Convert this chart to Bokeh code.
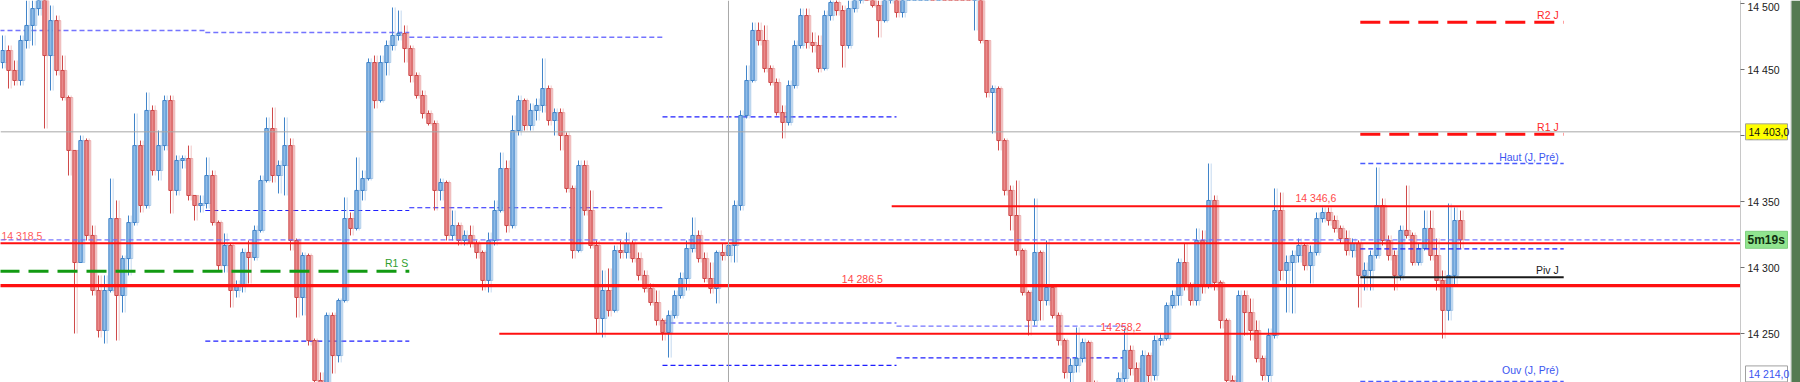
from bokeh.plotting import figure
from bokeh.models import (ColumnDataSource, Span, FixedTicker, BoxAnnotation,
                          CustomJSTickFormatter, Range1d, GridBox)
from bokeh.core.properties import value
from bokeh.embed import file_html
from bokeh.resources import INLINE

# ---- price data (one bar per index) ----
first_open = 14455.5
closes = [
    14464.6, 14449.5, 14441.9, 14472.2, 14483.6, 14496.4, 14506.3, 14460.8, 14487.3, 14449.5,
    14429.0, 14388.9, 14304.0, 14396.4, 14324.5, 14282.8, 14252.5, 14282.8, 14337.3, 14279.0,
    14307.0, 14334.3, 14392.6, 14347.2, 14419.2, 14373.7, 14392.6, 14426.7, 14358.6, 14381.3,
    14382.8, 14354.8, 14347.2, 14348.7, 14369.9, 14334.3, 14301.7, 14316.9, 14282.8, 14286.6,
    14311.6, 14307.8, 14328.3, 14366.1, 14405.5, 14369.9, 14377.5, 14392.6, 14320.7, 14277.5,
    14309.3, 14244.9, 14214.6, 14199.5, 14263.9, 14233.5, 14275.2, 14337.3, 14329.8, 14358.6,
    14367.6, 14455.5, 14426.7, 14455.5, 14468.4, 14476.0, 14477.5, 14466.1, 14445.7, 14430.5,
    14416.9, 14409.3, 14358.6, 14364.6, 14324.5, 14332.0, 14320.7, 14324.5, 14318.4, 14311.6,
    14290.4, 14320.7, 14343.4, 14375.2, 14332.0, 14404.0, 14426.7, 14407.8, 14419.2, 14423.0,
    14435.8, 14411.6, 14417.6, 14400.2, 14360.1, 14313.1, 14377.5, 14343.4, 14316.9, 14261.6,
    14282.8, 14267.7, 14313.1, 14311.6, 14318.4, 14307.0, 14294.2, 14284.3, 14273.7, 14260.1,
    14251.0, 14263.9, 14279.0, 14291.9, 14314.6, 14324.5, 14307.0, 14291.9, 14284.3, 14311.6,
    14309.3, 14316.9, 14347.2, 14415.4, 14441.9, 14479.8, 14472.2, 14451.0, 14440.4, 14417.6,
    14410.1, 14438.1, 14468.4, 14491.1, 14470.7, 14468.4, 14451.0, 14491.1, 14501.0, 14494.9,
    14468.4, 14496.4, 14502.5, 14510.1, 14506.3, 14498.7, 14487.3, 14504.0, 14508.6, 14493.4,
    14504.0, 14509.0, 14516.0, 14522.0, 14527.0, 14523.5, 14530.0, 14525.0, 14520.0, 14515.5,
    14511.5, 14507.5, 14509.0, 14472.2, 14432.8, 14435.8, 14396.4, 14358.6, 14339.6, 14313.1,
    14281.3, 14260.1, 14311.6, 14275.2, 14285.1, 14263.9, 14244.9, 14220.7, 14226.0, 14231.3,
    14243.4, 14210.8, 14201.0, 14195.7, 14199.5, 14205.5, 14216.1, 14237.4, 14223.7, 14210.8,
    14233.5, 14218.4, 14244.9, 14246.4, 14271.4, 14279.0, 14304.0, 14286.6, 14275.2, 14320.7,
    14286.6, 14351.0, 14288.9, 14260.1, 14214.6, 14205.5, 14279.0, 14266.1, 14252.5, 14231.3,
    14218.4, 14248.7, 14343.4, 14298.0, 14304.0, 14309.3, 14316.9, 14301.7, 14311.6, 14337.3,
    14341.9, 14335.8, 14329.8, 14322.2, 14313.1, 14318.4, 14294.2, 14298.0, 14309.3, 14347.2,
    14320.7, 14309.3, 14294.2, 14328.3, 14324.5, 14304.0, 14314.6, 14329.8, 14309.3, 14290.4,
    14267.7, 14294.2, 14335.8, 14321.2,
]
highs = [
    14476.0, 14468.4, 14457.0, 14476.0, 14502.5, 14502.5, 14510.1, 14510.1, 14498.7, 14491.1,
    14460.8, 14430.5, 14388.9, 14400.2, 14398.0, 14332.0, 14294.2, 14294.2, 14367.6, 14351.0,
    14309.3, 14339.6, 14416.9, 14396.4, 14432.8, 14423.0, 14404.0, 14430.5, 14430.5, 14385.1,
    14385.1, 14392.6, 14354.8, 14354.8, 14383.6, 14373.7, 14335.8, 14326.0, 14318.4, 14290.4,
    14314.6, 14320.7, 14332.0, 14369.9, 14413.9, 14421.4, 14381.3, 14413.9, 14398.0, 14322.2,
    14311.6, 14310.8, 14246.4, 14220.7, 14266.1, 14266.1, 14276.7, 14353.3, 14341.9, 14383.6,
    14373.7, 14458.6, 14460.8, 14460.8, 14472.2, 14497.2, 14494.9, 14483.6, 14468.4, 14448.0,
    14434.3, 14419.2, 14411.6, 14367.6, 14366.1, 14343.4, 14334.3, 14328.3, 14332.0, 14320.7,
    14313.1, 14326.7, 14351.0, 14387.3, 14381.3, 14415.4, 14430.5, 14428.2, 14424.5, 14428.2,
    14458.6, 14438.1, 14420.7, 14420.7, 14402.5, 14362.3, 14381.3, 14381.3, 14358.6, 14320.7,
    14298.0, 14299.5, 14316.9, 14320.7, 14326.7, 14320.7, 14311.6, 14298.0, 14288.1, 14282.8,
    14261.6, 14267.7, 14282.8, 14296.4, 14320.7, 14338.1, 14328.3, 14311.6, 14304.0, 14313.1,
    14318.4, 14320.7, 14351.0, 14419.2, 14453.3, 14485.8, 14485.8, 14483.6, 14453.3, 14443.4,
    14423.0, 14441.9, 14472.2, 14496.4, 14496.4, 14478.3, 14476.0, 14494.9, 14506.3, 14506.3,
    14498.7, 14502.5, 14508.6, 14513.9, 14516.1, 14510.1, 14502.5, 14508.6, 14513.9, 14511.6,
    14506.3, 14513.0, 14520.0, 14526.5, 14531.0, 14529.5, 14534.0, 14532.0, 14527.0, 14522.0,
    14518.0, 14514.0, 14512.0, 14506.0, 14472.2, 14438.1, 14437.4, 14398.0, 14362.3, 14366.1,
    14314.6, 14282.8, 14352.5, 14313.1, 14320.7, 14286.6, 14266.1, 14246.4, 14231.3, 14254.8,
    14246.4, 14244.9, 14214.6, 14208.5, 14207.0, 14210.8, 14220.7, 14254.0, 14241.1, 14228.3,
    14237.4, 14235.8, 14248.7, 14250.2, 14273.7, 14282.8, 14307.0, 14318.4, 14288.9, 14329.8,
    14328.3, 14379.0, 14354.8, 14290.4, 14261.6, 14218.4, 14282.8, 14282.8, 14276.7, 14260.1,
    14233.5, 14254.0, 14360.1, 14357.0, 14309.3, 14313.1, 14322.2, 14318.4, 14316.9, 14341.9,
    14345.7, 14345.7, 14339.6, 14332.0, 14328.3, 14322.2, 14320.7, 14304.0, 14313.1, 14376.0,
    14352.5, 14324.5, 14313.1, 14332.0, 14362.3, 14326.7, 14318.4, 14343.4, 14343.4, 14322.2,
    14298.0, 14348.7, 14345.7, 14343.4,
]
lows = [
    14451.0, 14435.8, 14438.1, 14438.1, 14466.1, 14468.4, 14491.1, 14405.5, 14434.3, 14445.7,
    14426.7, 14369.9, 14250.2, 14304.0, 14320.7, 14279.0, 14247.2, 14242.6, 14281.3, 14244.9,
    14266.1, 14294.2, 14332.0, 14341.9, 14344.9, 14369.9, 14366.1, 14388.9, 14341.1, 14354.8,
    14375.2, 14351.0, 14335.8, 14341.9, 14344.9, 14332.0, 14298.0, 14296.4, 14269.9, 14277.5,
    14281.3, 14288.1, 14305.5, 14326.7, 14364.6, 14364.6, 14356.3, 14354.8, 14313.1, 14262.3,
    14263.9, 14241.1, 14203.3, 14191.9, 14191.9, 14219.9, 14228.3, 14273.7, 14324.5, 14328.3,
    14351.0, 14366.1, 14420.7, 14425.2, 14445.7, 14464.6, 14472.2, 14455.5, 14440.4, 14428.2,
    14413.1, 14407.8, 14343.4, 14351.0, 14320.7, 14320.7, 14316.9, 14316.9, 14315.4, 14307.0,
    14282.8, 14281.3, 14316.9, 14341.9, 14326.7, 14329.8, 14400.2, 14404.0, 14404.0, 14411.6,
    14417.6, 14407.8, 14400.2, 14388.9, 14357.0, 14307.0, 14311.6, 14339.6, 14314.6, 14250.2,
    14247.2, 14263.1, 14266.1, 14307.0, 14307.0, 14304.0, 14290.4, 14281.3, 14271.4, 14256.3,
    14244.9, 14232.0, 14261.6, 14276.7, 14282.8, 14311.6, 14304.0, 14288.9, 14280.5, 14273.0,
    14305.5, 14304.0, 14304.0, 14343.4, 14413.1, 14440.4, 14468.4, 14448.0, 14438.1, 14415.4,
    14398.0, 14407.8, 14435.8, 14466.1, 14466.1, 14463.1, 14448.0, 14449.5, 14487.3, 14491.1,
    14451.7, 14466.1, 14493.4, 14500.2, 14502.5, 14497.2, 14474.5, 14485.8, 14500.2, 14489.6,
    14489.6, 14503.5, 14506.0, 14513.0, 14519.0, 14518.0, 14521.0, 14521.5, 14515.5, 14511.0,
    14507.0, 14504.0, 14479.8, 14470.0, 14429.0, 14401.7, 14388.9, 14354.8, 14328.3, 14309.3,
    14279.0, 14248.7, 14256.3, 14260.1, 14271.4, 14261.6, 14241.1, 14216.1, 14205.5, 14220.7,
    14228.3, 14203.3, 14191.9, 14188.1, 14185.8, 14191.9, 14199.5, 14210.8, 14218.4, 14205.5,
    14207.0, 14210.8, 14214.6, 14241.1, 14244.9, 14269.2, 14271.4, 14282.8, 14271.4, 14271.4,
    14280.5, 14284.3, 14282.8, 14254.0, 14203.3, 14195.7, 14199.5, 14248.7, 14244.9, 14228.3,
    14214.6, 14213.1, 14246.4, 14290.4, 14266.1, 14265.4, 14304.0, 14298.0, 14288.1, 14309.3,
    14334.3, 14332.0, 14326.7, 14318.4, 14309.3, 14307.8, 14269.9, 14282.8, 14282.8, 14307.0,
    14316.9, 14305.5, 14282.8, 14290.4, 14322.2, 14301.7, 14301.7, 14313.1, 14305.5, 14282.8,
    14246.4, 14260.1, 14286.6, 14314.6,
]

# ---- session boundaries (bar index) and reference levels ----
session_edges = [-0.5, 33.8, 67.8, 110.0, 149.0, 187.7, 226.3, 260.2]
ref_a_session = [0, 1, 2, 3, 4]
ref_a_price = [14479.8, 14478.3, 14474.7, 14258.2, 14255.8]
ref_b_session = [1, 1, 2, 3, 3, 4]
ref_b_price = [14343.4, 14244.4, 14345.5, 14414.4, 14226.0, 14231.8]

# today's pivot set (last session)
r2_day = 14486.1
r1_day = 14401.2
high_prev = 14379.0
open_prev = 14214.0
piv_day = 14292.9
mid_day = 14314.4

# weekly support / resistance levels
r1_week = 14297.4
zone_levels = [14318.5, 14286.5]
zone_starts = [-0.5, -0.5]
swing_levels = [14346.6, 14250.0]
swing_starts = [148.2, 82.8]
cursor_price = 14403.0
cursor_bar = 121.0
timer_text = "5m19s"


def fmt_price(v):
    return f"{v:,.1f}".replace(",", " ").replace(".", ",")


def no_frame_align(fig):
    if "frame_align" in fig.properties():
        fig.frame_align = False


# ---- derived bar geometry ----
n = len(closes)
opens = [first_open] + closes[:-1]
bars = dict(x=list(range(n)), o=opens, c=closes,
            h=[max(h, o, c) for h, o, c in zip(highs, opens, closes)],
            l=[min(l, o, c) for l, o, c in zip(lows, opens, closes)])
bars["top"] = [max(o, c) for o, c in zip(opens, closes)]
bars["bot"] = [min(o, c) for o, c in zip(opens, closes)]
bars["fill"] = ["#8fbbe6" if c >= o else "#e98a8b" for o, c in zip(opens, closes)]
bars["edge"] = ["#3f83c9" if c >= o else "#cf4848" for o, c in zip(opens, closes)]
bars["xg"] = [i + 0.45 for i in bars["x"]]
src = ColumnDataSource(bars)

x_start = -0.333
x_end = x_start + 290.0
y_lo, y_hi = 14213.1, 14502.5
y_range = Range1d(y_lo, y_hi)

p = figure(frame_width=1740, frame_height=382, x_range=Range1d(x_start, x_end),
           y_range=y_range, output_backend="svg",
           toolbar_location=None, x_axis_location=None, y_axis_location="right",
           min_border_left=0, min_border_top=0, min_border_bottom=0,
           min_border_right=60)
no_frame_align(p)
p.xgrid.visible = False
p.ygrid.visible = False
p.outline_line_color = None
p.background_fill_color = "white"
p.border_fill_color = "white"

ax = p.yaxis[0]
ax.ticker = FixedTicker(ticks=[14250, 14300, 14350, 14400, 14450, 14500])
ax.formatter = CustomJSTickFormatter(
    code="return tick.toFixed(0).replace(/\\B(?=(\\d{3})+(?!\\d))/g, ' ');")
ax.axis_line_color = "#c8c8c8"
ax.axis_line_width = 1
ax.major_tick_line_color = "#707070"
ax.major_tick_out = 4
ax.major_tick_in = 0
ax.minor_tick_line_color = None
ax.major_label_standoff = 3
ax.major_label_text_font = "Liberation Sans"
ax.major_label_text_font_size = "10.5px"
ax.major_label_text_color = "#202020"

FONT = value("Liberation Sans")

# crosshair
p.add_layout(Span(location=cursor_price, dimension="width", line_color="#a8a8a8", line_width=1))
p.add_layout(Span(location=cursor_bar, dimension="height", line_color="#a8a8a8", line_width=1))

# session reference levels
p.segment(x0=[session_edges[s] for s in ref_a_session],
          x1=[session_edges[s + 1] for s in ref_a_session],
          y0=ref_a_price, y1=ref_a_price,
          line_color="#5c5cff", line_width=1.4, line_dash="5 3", line_alpha=0.85)
p.segment(x0=[session_edges[s] for s in ref_b_session],
          x1=[session_edges[s + 1] for s in ref_b_session],
          y0=ref_b_price, y1=ref_b_price,
          line_color="#1f1fff", line_width=1.2, line_dash="5 3")

# last price
p.add_layout(Span(location=closes[-1], dimension="width", line_color="#6b6bff",
                  line_width=1.3, line_dash="5 3", line_alpha=0.9))

# candles: soft trailing copy, then the bars themselves
p.segment(x0="xg", x1="xg", y0="h", y1="l", source=src, line_color="edge",
          line_width=1, line_alpha=0.3)
p.vbar(x="xg", width=0.55, top="top", bottom="bot", source=src, fill_color="fill",
       line_color="edge", fill_alpha=0.35, line_alpha=0.3)
p.segment(x0="x", x1="x", y0="h", y1="l", source=src, line_color="edge", line_width=1)
p.vbar(x="x", width=0.55, top="top", bottom="bot", source=src, fill_color="fill",
       line_color="edge", line_width=1)

# weekly levels
p.segment(x0=zone_starts, x1=[x_end] * 2, y0=zone_levels, y1=zone_levels,
          line_color="#ff1010", line_width=[2, 3.2])
p.segment(x0=swing_starts, x1=[x_end] * 2, y0=swing_levels, y1=swing_levels,
          line_color="#ff1010", line_width=2)
p.segment(x0=[session_edges[0]], x1=[session_edges[2]], y0=[r1_week], y1=[r1_week],
          line_color="#129a12", line_width=3, line_dash="20 9")

# today's pivot set
d0, d1 = session_edges[6], session_edges[7]
p.segment(x0=[d0, d0], x1=[d1, d1], y0=[r2_day, r1_day], y1=[r2_day, r1_day],
          line_color="#ff1010", line_width=3, line_dash="20 9")
p.segment(x0=[d0, d0], x1=[d1, d1], y0=[high_prev, open_prev], y1=[high_prev, open_prev],
          line_color="#4a5cff", line_width=1.3, line_dash="5 3")
p.segment(x0=[d0], x1=[d1], y0=[mid_day], y1=[mid_day],
          line_color="#1f1fff", line_width=1.3, line_dash="5 3")
p.segment(x0=[d0], x1=[d1], y0=[piv_day], y1=[piv_day], line_color="#1a1a1a", line_width=2)

# level captions
cap_kw = dict(text_font=FONT, text_font_size="10.5px", text_baseline="bottom")
p.text(x=[d1] * 4, y=[r2_day, r1_day, high_prev, piv_day],
       text=["R2 J", "R1 J", "Haut (J, Pré)", "Piv J"],
       text_color=["#ff2a2a", "#ff2a2a", "#3a55f0", "#1a1a1a"],
       text_align="right", x_offset=-5, y_offset=-1, **cap_kw)
p.text(x=[d1], y=[open_prev], text=["Ouv (J, Pré)"], text_color="#3a55f0",
       text_align="right", x_offset=-5, y_offset=-5, **cap_kw)
p.text(x=[session_edges[2]], y=[r1_week], text=["R1 S"], text_color="#2e9e2e",
       text_align="right", x_offset=-1, y_offset=-2, **cap_kw)
p.text(x=[143.3], y=[zone_levels[1]], text=[fmt_price(zone_levels[1])], text_color="#ff4848",
       text_align="center", y_offset=-1, **cap_kw)
p.text(x=[215.5], y=[swing_levels[0]], text=[fmt_price(swing_levels[0])], text_color="#ff4848",
       text_align="left", y_offset=-2, **cap_kw)
p.text(x=[x_start], y=[zone_levels[0]], text=[fmt_price(zone_levels[0])], text_color="#ff5a5a",
       text_align="left", x_offset=1, y_offset=-1, **cap_kw)
p.text(x=[183.0], y=[ref_a_price[3]], text=[fmt_price(ref_a_price[3])], text_color="#ff4848",
       text_align="left", text_baseline="top", y_offset=-2,
       text_font=FONT, text_font_size="10.5px")

# ---- overlay layer in page pixels: price tags on the axis and the window edge ----
ov = figure(frame_width=1800, frame_height=382, x_range=Range1d(0, 1800), y_range=y_range,
            output_backend="svg", toolbar_location=None,
            x_axis_location=None, y_axis_location=None, min_border=0)
no_frame_align(ov)
ov.xgrid.visible = False
ov.ygrid.visible = False
ov.outline_line_color = None
ov.background_fill_alpha = 0
ov.border_fill_alpha = 0

tag_prices = [cursor_price, closes[-1], max(open_prev, y_lo + 6.5)]
ov.rect(x=1766, y=tag_prices, width=42, height=[16, 17, 16], height_units="screen",
        fill_color=["#ffff00", "#90e48f", "#ffffff"],
        line_color=["#a0a0a0", "#80d080", "#a0a0a0"])
ov.text(x=[1748, 1748], y=[tag_prices[0], tag_prices[2]],
        text=[fmt_price(cursor_price), fmt_price(open_prev)],
        text_color=["#111111", "#3a55f0"], text_baseline="middle",
        text_font=FONT, text_font_size="10.5px")
ov.text(x=[1747], y=[tag_prices[1]], text=[timer_text], text_color="#103010",
        text_baseline="middle", text_font=FONT, text_font_size="12px",
        text_font_style="bold")
ov.add_layout(BoxAnnotation(left=1791, right=1800, fill_color="#557a52", fill_alpha=1.0,
                            line_color=None))
ov.segment(x0=[1790.5], x1=[1790.5], y0=[y_lo], y1=[y_hi], line_color="#c8c8c8", line_width=1)

layout = GridBox(children=[(p, 0, 0), (ov, 0, 0)])
open("out.html", "w").write(file_html(layout, INLINE))
